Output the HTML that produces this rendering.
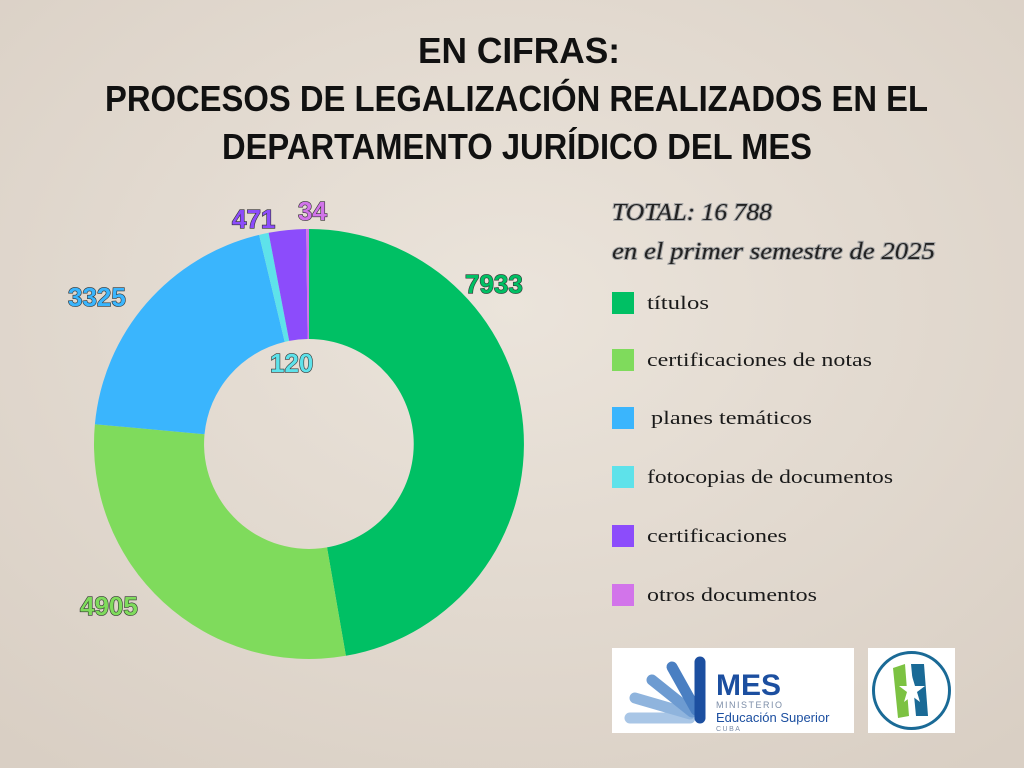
<!DOCTYPE html>
<html><head><meta charset="utf-8"><style>
html,body{margin:0;padding:0}
body{width:1024px;height:768px;overflow:hidden;background:#e5dcd2;font-family:"Liberation Sans",sans-serif}
svg{display:block}
</style></head><body>
<svg width="1024" height="768" viewBox="0 0 1024 768" xmlns="http://www.w3.org/2000/svg">
<defs>
<radialGradient id="bg" cx="50%" cy="40%" r="75%">
<stop offset="0" stop-color="#ebe4db"/><stop offset="1" stop-color="#d9cfc4"/>
</radialGradient>
</defs>
<rect width="1024" height="768" fill="url(#bg)"/>
<g font-family="'Liberation Sans',sans-serif" font-weight="bold" font-size="36" fill="#111" lengthAdjust="spacingAndGlyphs">
<text x="418" y="63" textLength="202" lengthAdjust="spacingAndGlyphs">EN CIFRAS:</text>
<text x="105" y="111" textLength="823" lengthAdjust="spacingAndGlyphs">PROCESOS DE LEGALIZACIÓN REALIZADOS EN EL</text>
<text x="222" y="159" textLength="590" lengthAdjust="spacingAndGlyphs">DEPARTAMENTO JURÍDICO DEL MES</text>
</g>
<!-- donut -->
<path d="M309,229 A215,215 0 0 1 345.9,655.8 L327,547.4 A105,105 0 0 0 309,339 Z" fill="#00c064"/>
<path d="M345.9,655.8 A215,215 0 0 1 94.9,424.2 L204.5,434.3 A105,105 0 0 0 327,547.4 Z" fill="#7fdb5c"/>
<path d="M94.9,424.2 A215,215 0 0 1 259.1,234.9 L284.7,341.9 A105,105 0 0 0 204.5,434.3 Z" fill="#3ab5fd"/>
<path d="M259.1,234.9 A215,215 0 0 1 268.6,232.8 L289.2,340.9 A105,105 0 0 0 284.7,341.9 Z" fill="#5ee2ea"/>
<path d="M268.6,232.8 A215,215 0 0 1 306.2,229 L307.6,339 A105,105 0 0 0 289.2,340.9 Z" fill="#8c4cfb"/>
<path d="M306.2,229 A215,215 0 0 1 309,229 L309,339 A105,105 0 0 0 307.6,339 Z" fill="#d274ea"/>
<g font-family="'Liberation Sans',sans-serif" font-weight="bold" font-size="26" stroke="#333" stroke-width="1.2" paint-order="stroke">
<text x="465" y="293" fill="#00c064">7933</text>
<text x="80" y="615" fill="#7fdb5c">4905</text>
<text x="68" y="306" fill="#3ab5fd">3325</text>
<text x="270" y="372" fill="#5ee2ea">120</text>
<text x="232" y="228" fill="#8c4cfb">471</text>
<text x="298" y="220" fill="#d274ea">34</text>
</g>
<g font-family="'Liberation Serif',serif" font-style="italic" font-size="24" fill="#222" stroke="#aaa" stroke-width="2" paint-order="stroke">
<text x="612" y="220" textLength="160" lengthAdjust="spacingAndGlyphs">TOTAL: 16 788</text>
<text x="612" y="259" textLength="323" lengthAdjust="spacingAndGlyphs">en el primer semestre de 2025</text>
</g>
<g font-family="'Liberation Serif',serif" font-size="19" fill="#1a1a1a">
<rect x="612" y="292" width="22" height="22" fill="#00c064"/><text x="647" y="309" textLength="62" lengthAdjust="spacingAndGlyphs">títulos</text>
<rect x="612" y="349" width="22" height="22" fill="#7fdb5c"/><text x="647" y="366" textLength="225" lengthAdjust="spacingAndGlyphs">certificaciones de notas</text>
<rect x="612" y="407" width="22" height="22" fill="#3ab5fd"/><text x="651" y="424" textLength="161" lengthAdjust="spacingAndGlyphs">planes temáticos</text>
<rect x="612" y="466" width="22" height="22" fill="#5ee2ea"/><text x="647" y="483" textLength="246" lengthAdjust="spacingAndGlyphs">fotocopias de documentos</text>
<rect x="612" y="525" width="22" height="22" fill="#8c4cfb"/><text x="647" y="542" textLength="140" lengthAdjust="spacingAndGlyphs">certificaciones</text>
<rect x="612" y="584" width="22" height="22" fill="#d274ea"/><text x="647" y="601" textLength="170" lengthAdjust="spacingAndGlyphs">otros documentos</text>
</g>
<!-- MES logo -->
<rect x="612" y="648" width="242" height="85" fill="#fff"/>
<g stroke-linecap="round" stroke-width="11">
<line x1="630" y1="718" x2="690" y2="718" stroke="#a9c6e6"/>
<line x1="635" y1="698" x2="690" y2="714" stroke="#8fb4dd"/>
<line x1="652" y1="680" x2="692" y2="712" stroke="#6d9bd1"/>
<line x1="672" y1="667" x2="696" y2="710" stroke="#4a7fc2"/>
<line x1="700" y1="662" x2="700" y2="718" stroke="#1c4fa0"/>
</g>
<text x="716" y="695" font-family="'Liberation Sans',sans-serif" font-weight="bold" font-size="30" fill="#1c4fa0">MES</text>
<text x="716" y="708" font-family="'Liberation Sans',sans-serif" font-size="9" letter-spacing="1.5" fill="#7d8ea8">MINISTERIO</text>
<text x="716" y="722" font-family="'Liberation Sans',sans-serif" font-size="13" fill="#1c4fa0">Educación Superior</text>
<text x="716" y="731" font-family="'Liberation Sans',sans-serif" font-size="7" letter-spacing="1.5" fill="#7d8ea8">CUBA</text>
<!-- second logo -->
<rect x="868" y="648" width="87" height="85" fill="#fff"/>
<circle cx="911.5" cy="690.5" r="38" fill="none" stroke="#1a6a96" stroke-width="3"/>
<path d="M893,668 L905,664 L909,716 L898,718 Z" fill="#7cc242"/>
<path d="M911,664 L924,664 L928,716 L916,716 Z" fill="#1a6a96"/>
<polygon points="912,676 915,686 925,686 917,692 920,702 912,696 904,702 907,692 899,686 909,686" fill="#fff"/>
</svg>
</body></html>
